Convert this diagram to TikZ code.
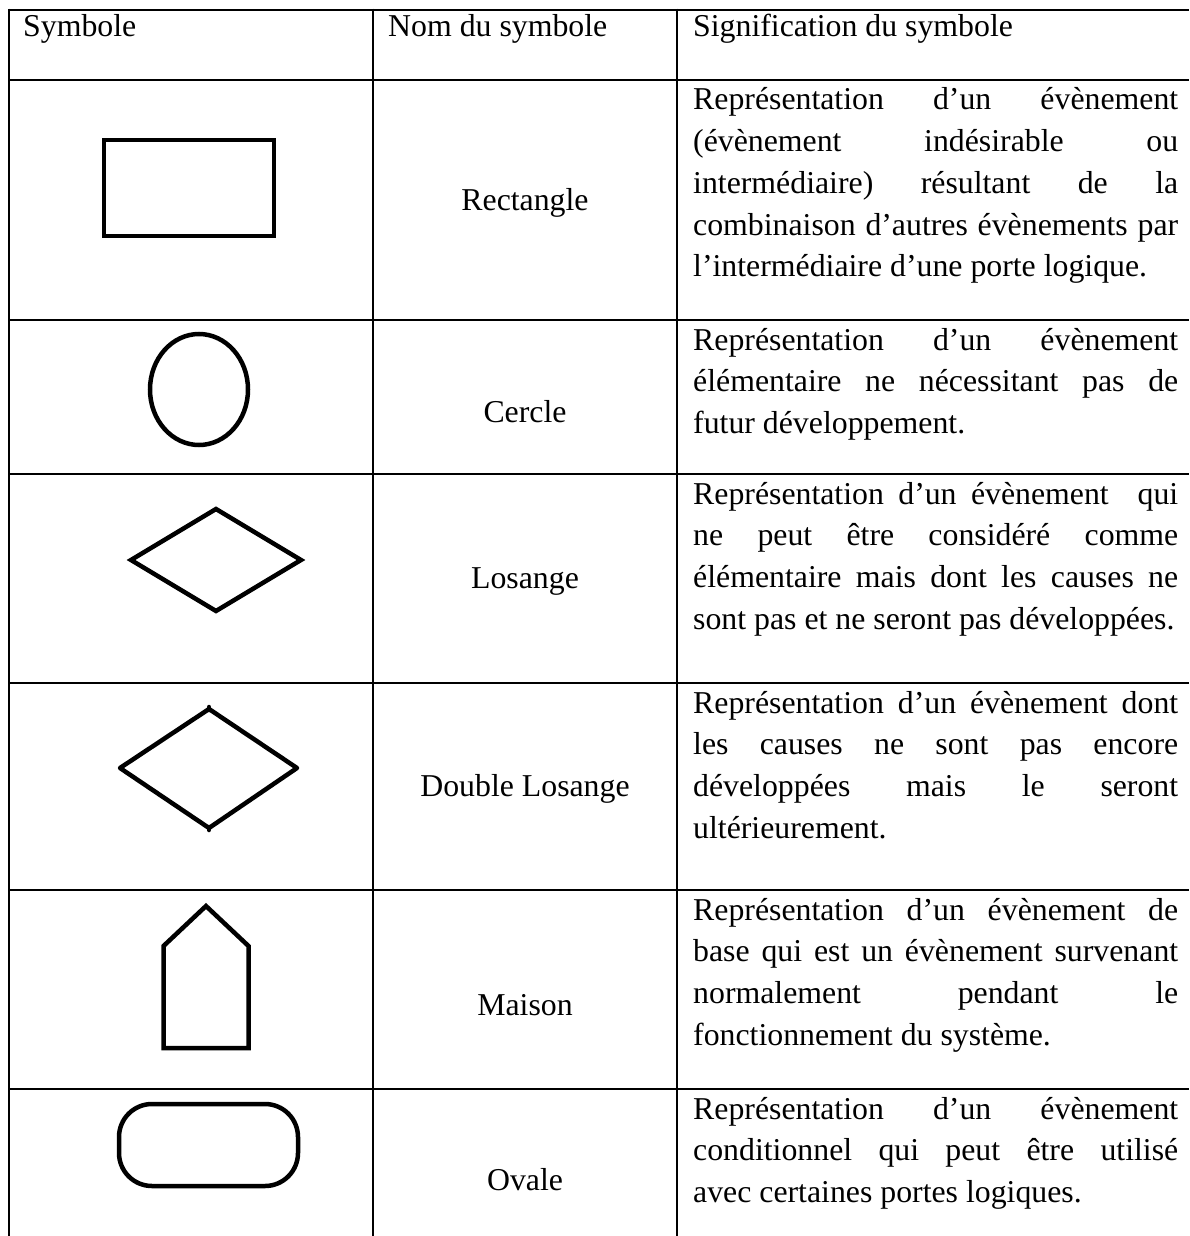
\documentclass[tikz,border=0pt]{standalone}
\usepackage{fontspec}
\setmainfont{Liberation Serif}
\newcommand\tabfont{\fontsize{31.8}{41.7}\selectfont}
\newcommand\jl[1]{\makebox[485pt][s]{#1}}
\begin{document}
\begin{tikzpicture}[x=1pt,y=-1pt,
  rule/.style={line width=2.6pt},
  sym/.style={line width=4.5pt},
  hdr/.style={anchor=base west, inner sep=0pt, font=\tabfont},
  nom/.style={anchor=base, inner sep=0pt, font=\tabfont},
  desc/.style={anchor=base west, inner sep=0pt, font=\tabfont}]
\useasboundingbox (0,0) rectangle (1189,1236);
% table rules
\foreach \yy in {10,80,320,474,683,890,1089}
  \draw[rule] (9,\yy) -- (1189,\yy);
\foreach \xx in {9,373,677}
  \draw[rule] (\xx,8.7) -- (\xx,1236);
% headers
\node[hdr] (h1) at (23,37) {Symbole};
\node[hdr] (h2) at (388,37) {Nom du symbole};
\node[hdr] (h3) at (693,37) {Signification du symbole};
% symbols
\draw[sym] (104,140) rectangle (274,236);
\draw[sym] (199,389.5) ellipse [x radius=49, y radius=55.5];
\draw[sym] (216,509) -- (301,560) -- (216,611) -- (131,560) -- cycle;
\draw[sym, line join=round] (209,709) -- (297,768) -- (209,828) -- (120,768) -- cycle;
\draw[sym, line cap=round] (209,707) -- (209,710) (209,827) -- (209,830);
\draw[sym] (206,906) -- (248.5,946) -- (248.5,1048) -- (163.5,1048) -- (163.5,946) -- cycle;
\draw[sym, rounded corners=33pt] (119,1104) rectangle (298,1186);
% names
\node[nom] (n1) at (525,210) {Rectangle};
\node[nom] (n2) at (525,422) {Cercle};
\node[nom] (n3) at (525,588) {Losange};
\node[nom] (n4) at (525,796) {Double Losange};
\node[nom] (n5) at (525,1015) {Maison};
\node[nom] (n6) at (525,1190) {Ovale};
% descriptions
\node[desc] (d1) at (693,110) {\parbox[t]{485pt}{\tabfont
  \jl{Représentation d’un évènement}\\
  \jl{(évènement indésirable ou}\\
  \jl{intermédiaire) résultant de la}\\
  \jl{combinaison d’autres évènements par}\\
  l’intermédiaire d’une porte logique.}};
\node[desc] (d2) at (693,350) {\parbox[t]{485pt}{\tabfont
  \jl{Représentation d’un évènement}\\
  \jl{élémentaire ne nécessitant pas de}\\
  futur développement.}};
\node[desc] (d3) at (693,504) {\parbox[t]{485pt}{\tabfont
  \jl{Représentation d’un évènement\ \ qui}\\
  \jl{ne peut être considéré comme}\\
  \jl{élémentaire mais dont les causes ne}\\
  sont pas et ne seront pas développées.}};
\node[desc] (d4) at (693,713) {\parbox[t]{485pt}{\tabfont
  \jl{Représentation d’un évènement dont}\\
  \jl{les causes ne sont pas encore}\\
  \jl{développées mais le seront}\\
  ultérieurement.}};
\node[desc] (d5) at (693,920) {\parbox[t]{485pt}{\tabfont
  \jl{Représentation d’un évènement de}\\
  \jl{base qui est un évènement survenant}\\
  \jl{normalement pendant le}\\
  fonctionnement du système.}};
\node[desc] (d6) at (693,1119) {\parbox[t]{485pt}{\tabfont
  \jl{Représentation d’un évènement}\\
  \jl{conditionnel qui peut être utilisé}\\
  avec certaines portes logiques.}};
\end{tikzpicture}
\end{document}
